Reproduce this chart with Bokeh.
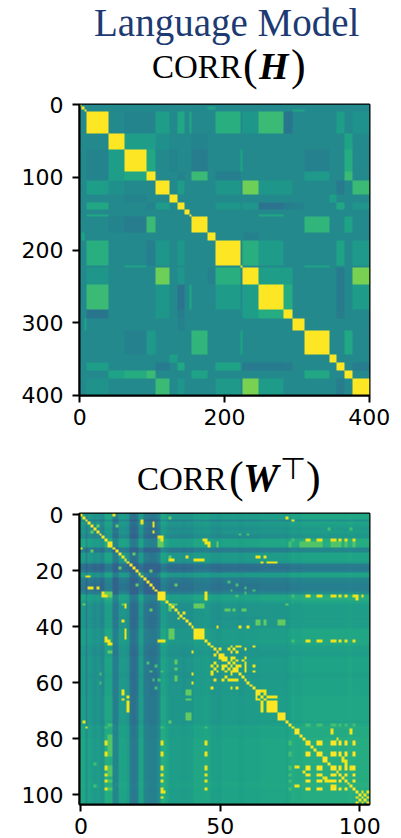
from itertools import product
import numpy as np
from bokeh.embed import file_html
from bokeh.layouts import column
from bokeh.models import Div, FixedTicker, LinearColorMapper, Range1d
from bokeh.palettes import Viridis256
from bokeh.plotting import figure
from bokeh.resources import INLINE

# ---------- CORR(H): block structure ----------
h_edges = [0, 3, 7, 10, 40, 62, 92, 105, 124, 135, 145, 152, 155, 177, 188, 222, 225,
           248, 282, 295, 311, 345, 355, 366, 377, 401]
h_background = 0.47
h_pairs = [
    (3, 7, .56), (3, 9, .60), (3, 11, .60), (3, 14, .63), (3, 16, .53), (3, 17, .68), (3, 18, .39),
    (3, 22, .56), (3, 24, .51), (3, 5, .45), (3, 6, .45),
    (4, 5, .56), (4, 6, .56), (4, 23, .58), (4, 12, .45), (4, 7, .50),
    (5, 6, .60), (5, 12, .42), (5, 20, .44), (5, 23, .62), (5, 15, .58), (5, 8, .45),
    (6, 12, .68), (6, 20, .54), (6, 23, .68), (6, 14, .43), (6, 9, .45),
    (7, 9, .55), (7, 14, .53), (7, 16, .78), (7, 17, .53), (7, 18, .53), (7, 22, .41), (7, 24, .68),
    (8, 21, .56),
    (9, 14, .53), (9, 16, .52), (9, 17, .38), (9, 18, .42), (9, 19, .44), (9, 22, .60), (9, 24, .52),
    (11, 17, .60),
    (12, 20, .66), (12, 23, .58), (12, 22, .47),
    (13, 16, .44), (1, 13, .58), (2, 19, .58),
    (14, 16, .63), (14, 17, .55), (14, 22, .58), (14, 24, .54),
    (15, 20, .58),
    (16, 17, .56), (16, 18, .56), (16, 24, .80), (16, 22, .41),
    (17, 18, .62), (17, 22, .41), (17, 24, .55),
    (18, 22, .42), (20, 23, .60), (22, 24, .42),
]

# ---------- CORR(W^T): level of each index and the strong cells ----------
w_levels = [.53, .53, .44, .52, .50, .48, .50, .47, .46, .56, .56, .56, .40, .40, .52, .52, .52, .50,
            .36, .34, .37, .52, .52, .40, .39, .37, .37, .38, .43, .56, .56, .53, .50, .50, .50, .50,
            .50, .49, .50, .50, .50, .53, .53, .53, .53, .54, .53, .51, .51, .50, .50, .52, .52, .52,
            .52, .52, .52, .51, .51, .52, .52, .52, .52, .52, .52, .53, .53, .53, .53, .53, .53, .53,
            .53, .53, .52, .54, .56, .55, .55, .55, .56, .56, .56, .56, .56, .56, .56, .56, .56, .56,
            .56, .56, .56, .56, .56, .56, .57, .57, .56, .56, .56, .56, .56, .56]
w_floor = 0.32
w_grid = [81, 82, 85, 86, 90, 91, 93, 95, 98]
w_grid_partners = [9, 29, 45]
w_green_rows = [10, 11]
w_green_cols = [79, 80, 81, 82, 83, 84, 85, 86, 90, 91, 92, 93, 95, 98]
w_blocks = [[10, 11], [28, 29, 30], [41, 42, 43, 44], [63, 64], [67, 68, 69, 70], [71, 72, 73], [77, 78],
            [81, 82], [87, 88], [85, 86], [90, 91]]
w_hot = [(45, 9), (45, 10), (46, 10), (46, 11), (44, 9), (29, 8), (29, 9),
         (38, 15), (41, 16), (42, 16), (43, 16), (44, 16), (32, 16), (33, 16), (45, 28), (45, 29), (45, 30),
         (35, 37), (74, 1), (76, 2), (99, 30), (101, 29), (99, 29), (0, 12), (2, 22), (4, 26), (6, 26), (8, 28),
         (22, 3), (26, 3), (26, 6), (28, 8), (15, 63), (15, 64), (15, 66), (17, 65), (17, 67), (17, 68),
         (17, 69), (17, 70), (40, 57), (40, 60), (40, 49), (48, 50), (50, 48), (54, 47), (55, 48), (53, 48),
         (57, 47), (62, 47), (51, 50), (54, 51), (55, 51), (52, 51), (58, 52), (59, 53), (48, 53), (49, 54),
         (47, 56), (49, 56), (52, 56), (54, 56), (55, 56), (59, 56), (62, 54), (62, 56), (48, 59), (51, 59),
         (54, 59), (55, 59), (47, 62), (54, 62), (56, 62), (53, 55), (52, 54), (54, 57), (53, 53),
         (63, 66), (64, 66), (65, 67), (65, 68), (65, 69), (65, 70), (63, 65),
         (77, 90), (78, 90), (77, 97), (78, 97), (87, 94), (88, 94), (88, 95), (89, 95), (90, 97), (91, 97),
         (92, 80), (99, 101), (100, 102), (99, 103), (101, 103)]
w_warm = [(9, 45), (10, 49), (11, 49), (41, 32), (42, 32), (43, 32), (44, 32), (32, 33), (32, 34),
          (28, 9), (28, 10), (28, 11), (29, 10), (29, 11),
          (38, 63), (39, 63), (38, 64), (39, 64), (38, 66), (39, 66), (38, 71), (38, 72), (38, 73), (39, 71),
          (39, 72), (39, 73), (34, 52), (34, 53), (34, 55), (34, 58), (34, 59), (33, 41), (33, 42), (33, 43),
          (33, 44), (32, 41), (32, 42), (32, 43), (32, 44), (15, 32), (74, 32), (12, 0), (32, 1), (13, 4), (4, 6),
          (14, 19), (20, 25), (25, 34)]
w_dim = [(27, 54), (26, 59), (28, 59), (27, 62), (25, 56), (29, 56), (24, 53), (7, 57), (7, 60), (5, 89),
         (5, 97), (75, 81), (75, 82), (75, 85), (75, 86), (75, 90), (75, 91), (75, 93), (75, 95), (75, 98),
         (9, 76), (29, 76), (45, 76), (10, 75), (11, 75)]

ticks_h = [0, 100, 200, 300, 400]
ticks_hx = [0, 200, 400]
ticks_w_y = [0, 20, 40, 60, 80, 100]
ticks_w_x = [0, 50, 100]
title_main = "Language Model"

# ---------- build matrices ----------
n = h_edges[-1]
H = np.full((n, n), h_background)
for a, b in zip(h_edges[:-1], h_edges[1:]):
    H[a:b, a:b] = 1.0
for i, j, v in h_pairs:
    H[h_edges[i]:h_edges[i + 1], h_edges[j]:h_edges[j + 1]] = v
    H[h_edges[j]:h_edges[j + 1], h_edges[i]:h_edges[i + 1]] = v

lv = np.array(w_levels)
W = np.maximum(lv[:, None] + lv[None, :] - 0.5, w_floor)


def put(pairs, v):
    for i, j in pairs:
        W[i, j] = v
        W[j, i] = v


put(product(w_green_rows, w_green_cols), .73)
put(w_dim, .70)
put(w_warm, .76)
put(product(w_grid_partners, w_grid), .97)
put(product(w_grid, w_grid), 1.0)
put(w_hot, .98)
for blk in w_blocks:
    put(product(blk, blk), 1.0)
for k in range(len(w_levels)):
    W[k, k] = 1.0

mapper = LinearColorMapper(palette=Viridis256, low=0, high=1)


def panel(M, height, top, bottom, yticks, xticks, xr):
    p = figure(width=393, height=height, output_backend="svg", toolbar_location=None,
               x_range=Range1d(*xr), y_range=Range1d(xr[1], xr[0]),
               min_border_left=79, min_border_right=24, min_border_top=top, min_border_bottom=bottom)
    p.image(image=[M], x=xr[0], y=xr[0], dw=xr[1] - xr[0], dh=xr[1] - xr[0], color_mapper=mapper)
    p.grid.visible = False
    p.xaxis.ticker = FixedTicker(ticks=xticks)
    p.yaxis.ticker = FixedTicker(ticks=yticks)
    for ax in (p.xaxis[0], p.yaxis[0]):
        ax.major_label_text_font = "DejaVu Sans"
        ax.major_label_text_font_size = "22px"
        ax.major_label_text_font_style = "normal"
        ax.major_label_text_color = "black"
        ax.major_tick_line_color = "black"
        ax.major_tick_line_width = 2
        ax.major_tick_out = 7
        ax.major_tick_in = 0
        ax.minor_tick_line_color = None
        ax.axis_line_color = "black"
        ax.axis_line_width = 2
    p.xaxis[0].major_label_standoff = 6
    p.yaxis[0].major_label_standoff = 9
    p.yaxis[0].major_label_orientation = "horizontal"
    p.outline_line_color = "black"
    p.outline_line_width = 2
    p.outline_line_alpha = 1
    p.background_fill_color = None
    p.border_fill_color = None
    return p


def title_panel(height, items):
    spans = []
    for x, base, text, size, color, style in items:
        top = base - 0.891 * size
        spans.append(
            f'<span style="position:absolute;left:{x}px;top:{top:.1f}px;white-space:nowrap;'
            f'font:{style} {size}px \'Liberation Serif\';line-height:normal;color:{color}">{text}</span>')
    return Div(text="".join(spans), width=393, height=height, margin=(0, 0, 0, 0),
               styles={"position": "relative", "overflow": "visible"})


NAVY = "#1d3a72"
t1 = title_panel(86, [
    (94, 35, title_main, 39, NAVY, "normal"),
    (152, 78, "CORR", 33, "black", "normal"),
    (243, 79, "(", 44, "black", "normal"),
    (259, 78, "H", 38, "black", "italic bold"),
    (291, 79, ")", 44, "black", "normal"),
])
p1 = panel(H, 359, 18, 50, ticks_h, ticks_hx, (-0.5, 400.5))
t2 = title_panel(50, [
    (137, 45, "CORR", 33, "black", "normal"),
    (229, 46, "(", 44, "black", "normal"),
    (243, 45, "W", 40, "black", "italic bold"),
    (280, 33, "⊤", 30, "black", "normal"),
    (306, 46, ")", 44, "black", "normal"),
])
p2 = panel(W, 343, 18, 34, ticks_w_y, ticks_w_x, (-0.5, 103.5))

page = column(t1, p1, t2, p2, spacing=0)
open("out.html", "w").write(file_html(page, INLINE))
